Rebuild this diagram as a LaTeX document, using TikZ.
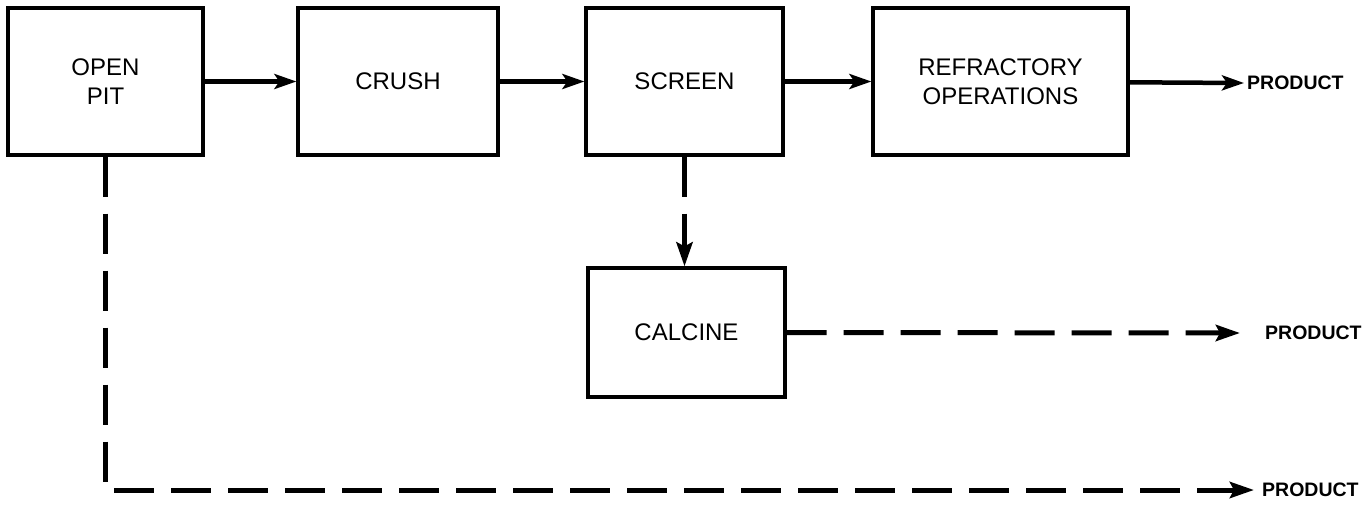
\documentclass[tikz,border=0pt]{standalone}
\usepackage{fontspec}
\setmainfont{Liberation Sans}
\usetikzlibrary{arrows.meta}

\begin{document}
\begin{tikzpicture}[x=1pt, y=-1pt,
    stage/.style={draw, line width=3.2pt, align=center, inner sep=0pt,
                  font=\fontsize{24}{29}\selectfont, minimum height=147pt},
    prodlabel/.style={anchor=west, inner sep=0pt, font=\fontsize{19.5}{23}\selectfont\bfseries},
    flow/.style={line width=4.5pt, -{Stealth[length=22pt, width=15pt, inset=5pt]}},
    side/.style={line width=5pt, dash pattern=on 40pt off 17pt,
                 -{Stealth[length=24pt, width=16pt, inset=4pt]}}]
  \useasboundingbox (0,0) rectangle (1369,507);

  % main line
  \node[stage, minimum width=195pt] (pit) at (105.5,81.5) {OPEN\\PIT};
  \node[stage, minimum width=200pt] (crush) at (398,81.5) {CRUSH};
  \node[stage, minimum width=197pt] (screen) at (684.5,81.5) {SCREEN};
  \node[stage, minimum width=255pt] (refr) at (1000.5,81.5) {REFRACTORY\\OPERATIONS};
  \node[stage, minimum width=197pt, minimum height=129pt] (calcine) at (686.5,332.5) {CALCINE};

  % outputs
  \node[prodlabel] (prodA) at (1247,83) {PRODUCT};
  \node[prodlabel] (prodB) at (1265,333) {PRODUCT};
  \node[prodlabel] (prodC) at (1262,490) {PRODUCT};
  \coordinate (bend) at (pit.south |- prodC);

  \draw[flow] (pit) -- (crush);
  \draw[flow] (crush) -- (screen);
  \draw[flow] (screen) -- (refr);
  \draw[flow] (refr) -- ([xshift=-3pt]prodA.west);
  \draw[side] (screen.south) -- (screen.south |- calcine.north);
  \draw[side] (calcine.east) -- ([xshift=-25pt]prodB.west);
  \draw[side] (pit.south) -- (bend) -- ([xshift=-8pt]prodC.west);
\end{tikzpicture}
\end{document}
